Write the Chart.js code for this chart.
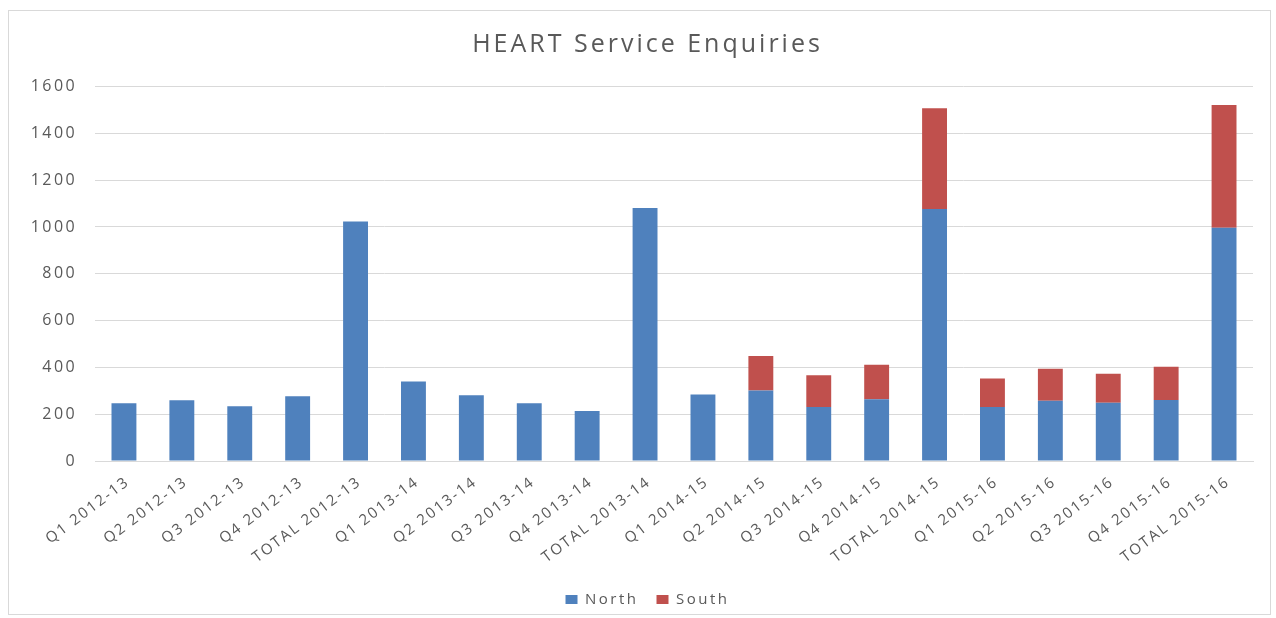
<!DOCTYPE html>
<html>
<head>
<meta charset="utf-8">
<script src="https://cdn.jsdelivr.net/npm/chart.js@4"></script>
<style>
html,body{margin:0;padding:0;background:#fff;}
#wrap{position:absolute;left:0;top:0;width:1276px;height:618px;}
</style>
</head>
<body>
<div id="wrap"><canvas id="c" width="1276" height="618"></canvas></div>
<script>
const categories = ["Q1 2012-13","Q2 2012-13","Q3 2012-13","Q4 2012-13","TOTAL 2012-13",
  "Q1 2013-14","Q2 2013-14","Q3 2013-14","Q4 2013-14","TOTAL 2013-14",
  "Q1 2014-15","Q2 2014-15","Q3 2014-15","Q4 2014-15","TOTAL 2014-15",
  "Q1 2015-16","Q2 2015-16","Q3 2015-16","Q4 2015-16","TOTAL 2015-16"];
const north = [247,260,234,277,1023, 340,281,247,214,1081, 284,301,231,264,1077, 231,257,249,261,996];
const south = [0,0,0,0,0, 0,0,0,0,0, 0,148,135,147,430, 122,137,124,142,525];
const yTicks = [0,200,400,600,800,1000,1200,1400,1600];

const FONT = "'Open Sans', 'Liberation Sans', sans-serif";

function withSpacing(obj, method, sp){
  if (!obj || obj['__sp_' + method]) return;
  const orig = obj[method];
  obj[method] = function(...a){
    const ctx = this.ctx;
    const prev = ctx.letterSpacing;
    ctx.letterSpacing = sp;
    try { return orig.apply(this, a); } finally { ctx.letterSpacing = prev || '0px'; }
  };
  obj['__sp_' + method] = true;
}

const spacingPlugin = {
  id: 'spacing',
  beforeLayout(chart){
    withSpacing(chart.titleBlock, 'draw', '3px');
    withSpacing(chart.legend, 'fit', '2.5px');
    withSpacing(chart.legend, 'draw', '2.5px');
    withSpacing(chart.scales.x, 'draw', '2px');
    withSpacing(chart.scales.y, 'draw', '2.4px');
    if (chart.scales.y) chart.scales.y._computeLabelArea = () => undefined;
    if (chart.scales.x) chart.scales.x._computeLabelArea = () => undefined;
  }
};

const framePlugin = {
  id: 'frame',
  beforeDraw(chart){
    const ctx = chart.ctx;
    ctx.save();
    ctx.fillStyle = '#ffffff';
    ctx.fillRect(0,0,chart.width,chart.height);
    ctx.strokeStyle = '#d9d9d9';
    ctx.lineWidth = 1;
    ctx.strokeRect(8.5,10.5,1262,604);
    ctx.restore();
  }
};

new Chart(document.getElementById('c'), {
  type: 'bar',
  data: {
    labels: categories,
    datasets: [
      {label:'North', data: north, backgroundColor:'#4F81BD', borderWidth:0},
      {label:'South', data: south, backgroundColor:'#C0504D', borderWidth:0}
    ]
  },
  plugins: [framePlugin, spacingPlugin],
  options: {
    responsive: false,
    animation: false,
    layout: {padding: {left: 42, right: 23, top: 0, bottom: 1}},
    datasets: {bar: {barPercentage: 0.43, categoryPercentage: 1.0}},
    plugins: {
      title: {display: true, text: 'HEART Service Enquiries', color: '#595959',
        font: {family: FONT, size: 25, weight: 'normal'}, padding: {top: 29.5, bottom: 27}},
      legend: {position: 'bottom', labels: {color: '#595959', font: {family: FONT, size: 15},
        boxWidth: 12, boxHeight: 9, padding: 18}},
      tooltip: {enabled: false}
    },
    scales: {
      x: {stacked: true,
        grid: {display: false, drawTicks: false},
        border: {display: true, color: '#d9d9d9'},
        ticks: {color: '#595959', font: {family: FONT, size: 15}, maxRotation: 37, minRotation: 37,
          autoSkip: false, padding: 12, labelOffset: 4},
        afterFit(s){ s.height = 113; }
      },
      y: {stacked: true, min: 0, max: 1600,
        afterBuildTicks(s){ s.ticks = yTicks.map(v => ({value: v})); },
        grid: {color: '#d9d9d9', drawTicks: false},
        border: {display: false},
        ticks: {color: '#595959', font: {family: FONT, size: 16}, padding: 18,
          callback: (v) => String(v)},
        afterFit(s){ s.width = 53; }
      }
    }
  }
});
</script>
</body>
</html>
